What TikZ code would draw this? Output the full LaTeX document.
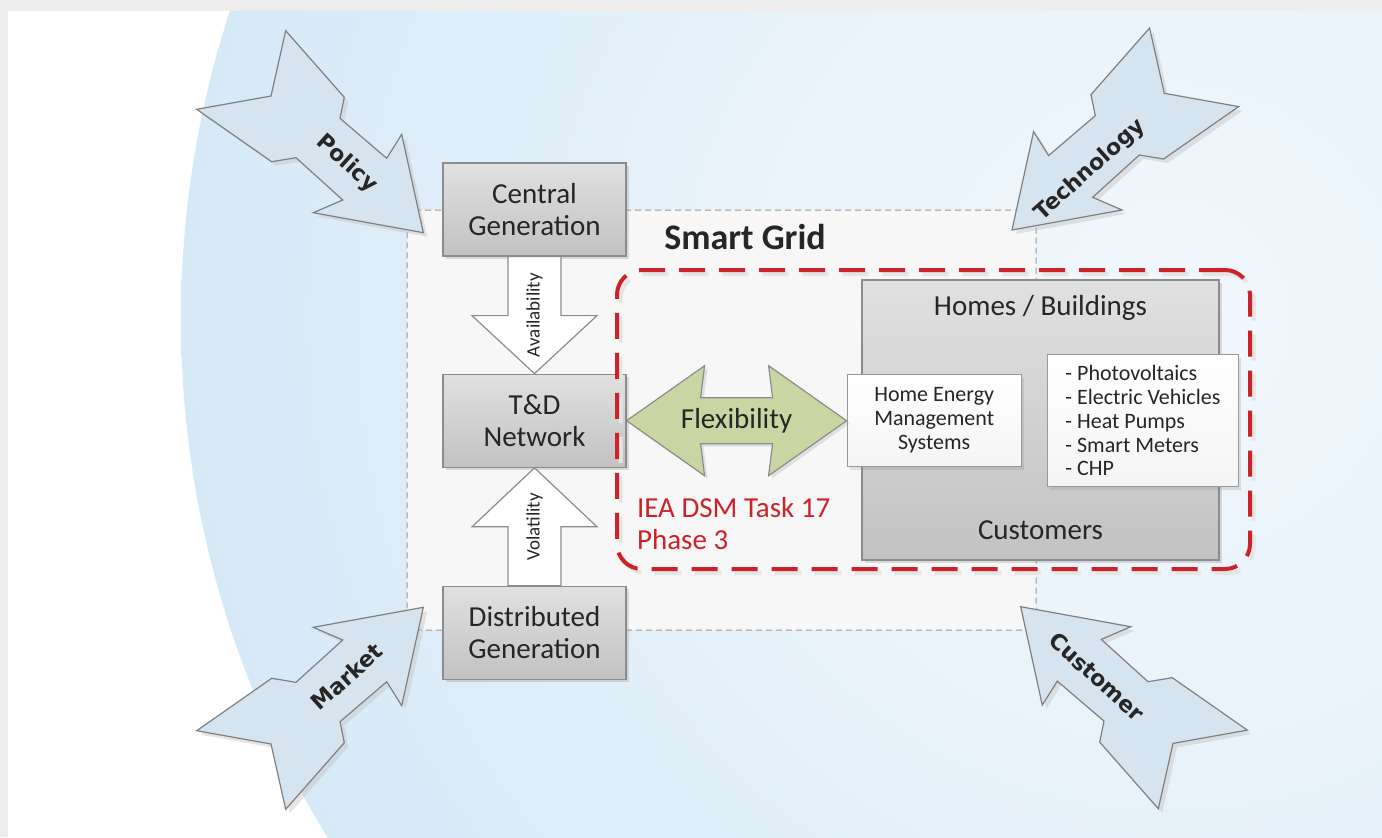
\documentclass[tikz,border=0pt]{standalone}
\usepackage{fontspec}
\setmainfont{Carlito}
\newfontfamily\driverfont{DejaVu Sans}
\usepackage{xcolor}
\usepackage{tikz}
\usetikzlibrary{shapes,arrows,positioning,fit,backgrounds,calc,shadows}

\definecolor{sky0}{HTML}{F1F7FC}
\definecolor{sky1}{HTML}{E7F2FA}
\definecolor{sky2}{HTML}{D3E8F7}
\definecolor{sky3}{HTML}{C3E1F5}
\definecolor{driverfill}{HTML}{D6E4F0}
\definecolor{flexgreen}{HTML}{C9D6A3}
\definecolor{dsmred}{HTML}{CC2229}
\definecolor{boxline}{HTML}{8C8C8C}
\pgfdeclareradialshading{sky}{\pgfpoint{0bp}{0bp}}{color(0bp)=(sky0); color(12bp)=(sky1); color(27bp)=(sky2); color(47bp)=(sky3); color(50bp)=(sky3)}

\begin{document}
\begin{tikzpicture}[
    x=0.5pt, y=-0.5pt,
    node distance=58.5pt,
    every node/.style={text=black!85},
    unit/.style={rectangle, draw=boxline, line width=0.6pt, top color=black!12, bottom color=black!24, minimum width=91.5pt, minimum height=46.5pt, inner sep=0pt, align=center, font=\fontsize{14.5}{16}\selectfont, drop shadow={shadow xshift=1.5pt, shadow yshift=-1.5pt, opacity=0.25}},
    card/.style={rectangle, draw=black!40, line width=0.6pt, top color=white, bottom color=black!4, inner sep=0pt, font=\fontsize{11}{12}\selectfont, drop shadow={shadow xshift=1.5pt, shadow yshift=-1.5pt, opacity=0.2}},
    grid box/.style={rectangle, draw=black!40, line width=0.5pt, dash pattern=on 3pt off 2pt, fill=black!3, rounded corners=7.5pt, minimum width=314.5pt, minimum height=210pt},
    dsm box/.style={rectangle, line width=2pt, dash pattern=on 13pt off 7pt, rounded corners=12.5pt, minimum width=316.5pt, minimum height=149.5pt},
    flow/.style={draw=boxline, line width=0.6pt, fill=white},
    flow label/.style={font=\fontsize{9.5}{11}\selectfont},
    flex/.style={draw=boxline, line width=0.6pt, fill=flexgreen, drop shadow={shadow xshift=1.5pt, shadow yshift=-1.5pt, opacity=0.2}},
    driver body/.style={draw=black!50, line width=0.6pt, fill=driverfill},
    driver shadow/.style={fill=black!25, opacity=0.4},
    driver label/.style={font=\driverfont\bfseries\fontsize{11}{13}\selectfont},
    driver/.pic={\path[pic actions] (-226.6,-123.4) -- (-152.3,-136.7) -- (-137.6,-202) -- (-79,-135.4) -- (-83.3,-114.4) -- (-36.6,-74.4) -- (-21.6,-98.4) -- (0,0) -- (-110,-20) -- (-80.6,-32.7) -- (-127.3,-75) -- (-151.6,-71) -- cycle;}
]
\useasboundingbox (0,0) rectangle (1382,837);

% page and background disc
\fill[black!7] (0,0) rectangle (1382,837);
\fill[white] (8,11) rectangle (1382,837);
\begin{scope}
  \clip (8,11) rectangle (1382,837);
  \shade[shading=sky] (1170,319) circle (989);
\end{scope}

% smart grid area
\node[grid box] (sg) at (721.5,420) {};
\node[font=\fontsize{18}{20}\selectfont\bfseries] (sglabel) at (745,237) {Smart Grid};

% generation and network
\node[unit] (cg) at (534.5,209.5) {Central\\Generation};
\node[unit, below=of cg] (td) {T\&D\\Network};
\node[unit, below=59pt of td] (dg) {Distributed\\Generation};

\draw[flow] ($(cg.south)+(-26.5,0)$) -- ($(td.north)+(-26.5,-58)$) -- ($(td.north)+(-62.5,-58)$) -- (td.north) -- ($(td.north)+(62.5,-58)$) -- ($(td.north)+(26.5,-58)$) -- ($(cg.south)+(26.5,0)$) -- cycle;
\draw[flow] ($(dg.north)+(-26.5,0)$) -- ($(td.south)+(-26.5,59)$) -- ($(td.south)+(-62.5,59)$) -- (td.south) -- ($(td.south)+(62.5,59)$) -- ($(td.south)+(26.5,59)$) -- ($(dg.north)+(26.5,0)$) -- cycle;
\node[flow label, rotate=90] (avail) at ($(cg.south)!0.5!(td.north)$) {Availability};
\node[flow label, rotate=90] (volat) at ($(td.south)!0.5!(dg.north)$) {Volatility};

% task 17 scope
\node[dsm box, draw=black!10] (dsmshadow) at (937,423.5) {};
\node[dsm box, draw=dsmred] (dsm) at (933.5,419.5) {};
\node[anchor=west, align=left, text=dsmred, font=\fontsize{14.5}{16}\selectfont] (iea) at (630,524) {IEA DSM Task 17\\Phase 3};

% customers
\node[unit, minimum width=178.5pt, minimum height=140pt] (homes) at (1040.5,420) {};
\node[font=\fontsize{14.5}{16}\selectfont] (homeslabel) at (1040.5,308) {Homes / Buildings};
\node[font=\fontsize{14.5}{16}\selectfont] (custlabel) at (1040.5,530) {Customers};
\node[card, right=110pt of td, minimum width=87pt, minimum height=46pt, align=center] (hems) {Home Energy\\Management\\Systems};
\node[card, right=12.5pt of hems, minimum width=95.5pt, minimum height=66pt, align=left, font=\fontsize{11}{11.9}\selectfont] (devices) {- Photovoltaics\\- Electric Vehicles\\- Heat Pumps\\- Smart Meters\\- CHP};

\draw[flex] (td.east) -- ($(td.east)+(78,-55)$) -- ($(td.east)+(74,-23)$) -- ($(hems.west)+(-74,-23)$) -- ($(hems.west)+(-78,-55)$) -- (hems.west) -- ($(hems.west)+(-78,55)$) -- ($(hems.west)+(-74,23)$) -- ($(td.east)+(74,23)$) -- ($(td.east)+(78,55)$) -- cycle;
\node[font=\fontsize{14.5}{16}\selectfont] (flexlabel) at ($(td.east)!0.5!(hems.west)$) {Flexibility};

% drivers
\pic[driver shadow] at (427.3,236.7) {driver};
\pic[driver body] at (423.3,232.7) {driver};
\pic[driver shadow, xscale=-1] at (1016,234) {driver};
\pic[driver body, xscale=-1] at (1012,230) {driver};
\pic[driver shadow, yscale=-1] at (427.3,611.3) {driver};
\pic[driver body, yscale=-1] at (423.3,607.3) {driver};
\pic[driver shadow, xscale=-1, yscale=-1] at (1024.7,610.7) {driver};
\pic[driver body, xscale=-1, yscale=-1] at (1020.7,606.7) {driver};
\node[driver label, rotate=-42] (policy) at (346.7,164) {Policy};
\node[driver label, rotate=42] (technology) at (1090,170) {Technology};
\node[driver label, rotate=42] (market) at (346.7,676.7) {Market};
\node[driver label, rotate=-42] (customer) at (1096.7,676.7) {Customer};

\end{tikzpicture}
\end{document}
